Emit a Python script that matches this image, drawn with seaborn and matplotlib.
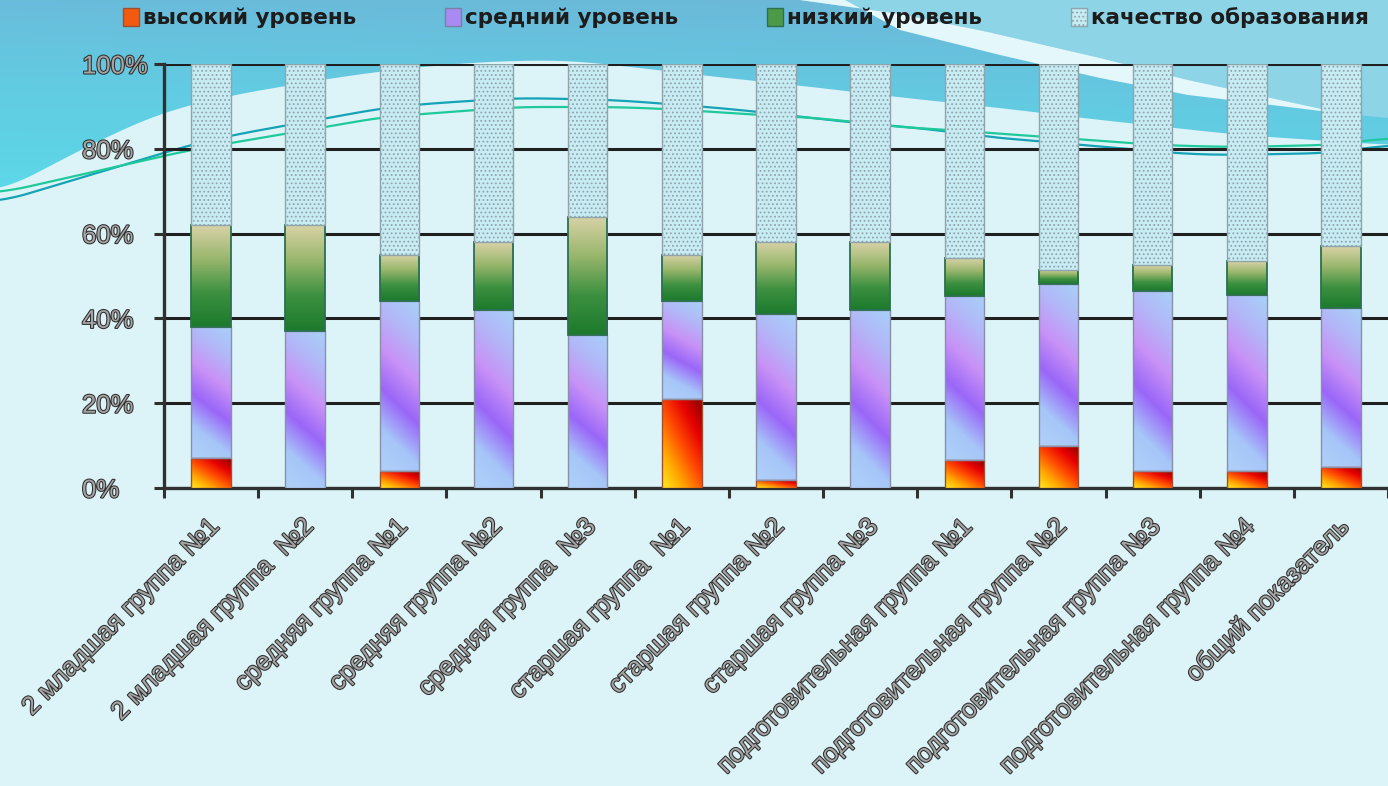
import numpy as np
import matplotlib
matplotlib.use("Agg")
import matplotlib.pyplot as plt
import seaborn as sns
from matplotlib.colors import LinearSegmentedColormap
from matplotlib.patches import Patch, Rectangle, Polygon
import matplotlib.patheffects as pe
import matplotlib.transforms as mtransforms

# ---------------- data ----------------
categories = [
    "2 младшая группа №1",
    "2 младшая группа  №2",
    "средняя группа №1",
    "средняя группа №2",
    "средняя группа  №3",
    "старшая группа  №1",
    "старшая группа №2",
    "старшая группа №3",
    "подготовительная группа №1",
    "подготовительная группа №2",
    "подготовительная группа №3",
    "подготовительная группа №4",
    "общий показатель",
]
high = [7, 0, 4, 0, 0, 21, 2, 0, 6.6, 10, 4, 4, 5]
mid = [31, 37, 40, 42, 36, 23, 39, 42, 38.8, 38, 42.5, 41.5, 37.5]
low = [24, 25, 11, 16, 28, 11, 17, 16, 8.9, 3.5, 6, 8, 14.5]
quality = [38, 38, 45, 42, 36, 45, 42, 42, 45.7, 48.5, 47.5, 46.5, 43]
series_names = ["высокий уровень", "средний уровень", "низкий уровень", "качество образования"]
y_ticks = [0, 20, 40, 60, 80, 100]
y_tick_labels = ["0%", "20%", "40%", "60%", "80%", "100%"]

# ---------------- style ----------------
sns.set_theme(style="white")
plt.rcParams['font.family'] = ['Liberation Sans', 'DejaVu Sans']
plt.rcParams['hatch.linewidth'] = 0.8

W, H = 1388, 786
fig = plt.figure(figsize=(W / 100, H / 100), dpi=100)
fig.patch.set_facecolor('#DCF4F8')

# ---------------- decorative slide background ----------------
bg = fig.add_axes([0, 0, 1, 1], zorder=-10)
bg.set_xlim(0, W)
bg.set_ylim(H, 0)
bg.axis('off')
bg.add_patch(Rectangle((0, 0), W, H, color='#DCF4F8', zorder=0))


def smooth_curve(xs, ys, n=500, k=18):
    xx = np.linspace(xs[0], xs[-1], n)
    yy = np.interp(xx, xs, ys)
    padded = np.pad(yy, k, mode='edge')
    ker = np.ones(2 * k + 1) / (2 * k + 1)
    return xx, np.convolve(padded, ker, mode='valid')


bx, by = smooth_curve([0, 100, 163, 233, 333, 400, 480, 560, 614, 708, 803, 897, 1000, 1100, 1240, 1388],
                      [192, 140, 112, 95, 78, 69, 62, 60, 65, 76, 86, 97, 108, 120, 135, 145], k=12)
blue_poly = Polygon(np.vstack([[[0, 0], [W, 0]], np.column_stack([bx[::-1], by[::-1]])]),
                    closed=True, facecolor='none', edgecolor='none')
bg.add_patch(blue_poly)
gy = np.linspace(0, 1, 100)[:, None]
gx = np.linspace(0, 1, 100)[None, :]
blue_cmap = LinearSegmentedColormap.from_list('blu', ['#6DB6D8', '#62CBE2', '#5CD9E9'])
im = bg.imshow(gy * 0.85 + 0.15 * (1 - gx), extent=(0, W, 200, 0), cmap=blue_cmap, vmin=0, vmax=1,
               aspect='auto', zorder=1)
im.set_clip_path(blue_poly)

# light area above the white swoosh (top right)
bg.add_patch(Polygon([[800, 0], [W, 0], [W, 118], [1345, 114], [1280, 100], [1188, 80],
                      [1100, 58], [988, 32], [900, 14]], closed=True,
                     facecolor='#8DD4E6', edgecolor='none', zorder=2))
# white swoosh
bg.add_patch(Polygon([[800, 0], [900, 14], [988, 32], [1100, 58], [1188, 80], [1280, 100], [1345, 114],
                      [1280, 106], [1188, 95], [1100, 78], [1000, 55], [900, 30], [845, 0]],
                     closed=True, facecolor='#E4F7FA', edgecolor='none', zorder=3))

tx, ty = smooth_curve([0, 190, 233, 383, 423, 515, 572, 614, 668, 708, 760, 803, 857, 897, 953, 988,
                       1048, 1141, 1185, 1235, 1278, 1331, 1388],
                      [202, 145, 135, 108, 104, 98, 99, 100, 104, 107, 112, 117, 123, 126, 132, 137,
                       142, 150, 154, 155, 154, 153, 145], k=10)
gx2, gy2 = smooth_curve([0, 190, 383, 423, 515, 572, 614, 668, 760, 803, 857, 897, 953, 988, 1048,
                         1141, 1185, 1235, 1331, 1388],
                        [193, 150, 117, 114, 107, 107, 107, 109, 115, 117, 122, 127, 130, 133, 137,
                         144, 146, 147, 145, 138], k=10)
bg.plot(tx, ty, color='#15A3B5', lw=1.6, zorder=4)
bg.plot(gx2, gy2, color='#1FC999', lw=1.6, zorder=4)

# ---------------- main chart ----------------
ax = fig.add_axes([164 / W, (H - 488) / H, (W - 164) / W, 424 / H], zorder=1)
ax.set_facecolor('none')

bottoms_mid = list(high)
bottoms_low = [h + m for h, m in zip(high, mid)]
bottoms_q = [h + m + l for h, m, l in zip(high, mid, low)]

series = [
    (high, [0] * len(high), '#F06020', '#A05030', 'high'),
    (mid, bottoms_mid, '#A78AF2', '#8A90A8', 'mid'),
    (low, bottoms_low, '#5E9E50', '#2C7050', 'low'),
    (quality, bottoms_q, '#C8ECF4', '#90A4AC', 'quality'),
]

cmaps = {
    'high': LinearSegmentedColormap.from_list('h', ['#FFEA20', '#FFA600', '#FF4A00', '#E60000', '#8C0000']),
    'mid': LinearSegmentedColormap.from_list('m', ['#B0D0FA', '#A6C6F8', '#9A66F8', '#C892F6', '#B2B8F8', '#A8D0F8']),
    'low': LinearSegmentedColormap.from_list('l', ['#1C7A2C', '#3C9040', '#98B66C', '#D8D2A6']),
}

for vals, bots, fc, ec, kind in series:
    n_before = len(ax.patches)
    kw = dict(hatch='....') if kind == 'quality' else {}
    sns.barplot(x=categories, y=vals, bottom=bots, color=fc, width=0.42, ax=ax,
                edgecolor=ec, linewidth=1.3 if kind == 'low' else 1.0, saturation=1, zorder=3, **kw)
    new = ax.patches[n_before:]
    if kind in cmaps:
        for p in new:
            x0, y0, w, h = p.get_x(), p.get_y(), p.get_width(), p.get_height()
            if h <= 0:
                p.set_visible(False)
                continue
            u = np.linspace(0, 1, 24)[None, :]
            v = np.linspace(0, 1, 96)[:, None]
            if kind == 'high':
                t = 0.55 * v + 0.45 * u
            elif kind == 'mid':
                t = 0.82 * v + 0.18 * u
            else:
                t = v + 0 * u
            img = ax.imshow(t, extent=(x0, x0 + w, y0, y0 + h), origin='lower', cmap=cmaps[kind],
                            vmin=0, vmax=1, aspect='auto', interpolation='bilinear', zorder=2.8)
            img.set_clip_path(p)
            p.set_facecolor('none')

ax.set_xlim(-0.5, -0.5 + (W - 164) / 95.08)
ax.set_ylim(0, 100)
ax.set_xlabel('')
ax.set_ylabel('')

# grid and spines
ax.set_yticks(y_ticks)
ax.grid(axis='y', color='#202020', lw=2.2, zorder=0)
ax.grid(axis='x', visible=False)
ax.set_axisbelow(True)
for s in ['top', 'right']:
    ax.spines[s].set_visible(False)
for s in ['left', 'bottom']:
    ax.spines[s].set_color('#303030')
    ax.spines[s].set_linewidth(2.4)

text_fx = [pe.withStroke(linewidth=1.5, foreground='#2E2E2E')]
ax.set_yticklabels(y_tick_labels, fontsize=18.5, color='#A4A4A4', ha='left')
for lab in ax.get_yticklabels():
    lab.set_path_effects(text_fx)
ax.tick_params(axis='y', which='major', length=7.5, width=2.2, color='#303030', pad=51.5, left=True)

# category labels, rotated, anchored under each bar
ax.set_xticks(range(len(categories)))
ax.set_xticklabels([''] * len(categories))
offset = mtransforms.ScaledTranslation(-4 / 100, -26 / 100, fig.dpi_scale_trans)
lab_tr = ax.get_xaxis_transform() + offset
for i, name in enumerate(categories):
    ax.text(i, 0, name, transform=lab_tr, rotation=45, ha='right', va='top',
            rotation_mode='anchor', fontsize=18.5, color='#A4A4A4', path_effects=text_fx,
            clip_on=False)
ax.set_xticks(np.arange(-0.5, len(categories), 1), minor=True)
ax.tick_params(axis='x', which='major', length=0, pad=4)
ax.tick_params(axis='x', which='minor', length=7.5, width=2.2, color='#303030', bottom=True)

# legend
handles = [
    Patch(facecolor='#F25A10', edgecolor='#A05030'),
    Patch(facecolor='#A88AF2', edgecolor='#7A80A0'),
    Patch(facecolor='#4C9A48', edgecolor='#2C7050'),
    Patch(facecolor='#C8ECF4', edgecolor='#90A4AC', hatch='....'),
]
leg = fig.legend(handles, series_names, loc='center', bbox_to_anchor=(746 / W, 1 - 18 / H), ncol=4,
                 frameon=False, handlelength=0.75, handleheight=0.85, handletextpad=0.2,
                 columnspacing=4.1, prop={'size': 15.5, 'weight': 'bold', 'family': ['DejaVu Sans']})
for t in leg.get_texts():
    t.set_color('#1C1C1C')

fig.savefig('out.png', dpi=100, facecolor=fig.get_facecolor())
